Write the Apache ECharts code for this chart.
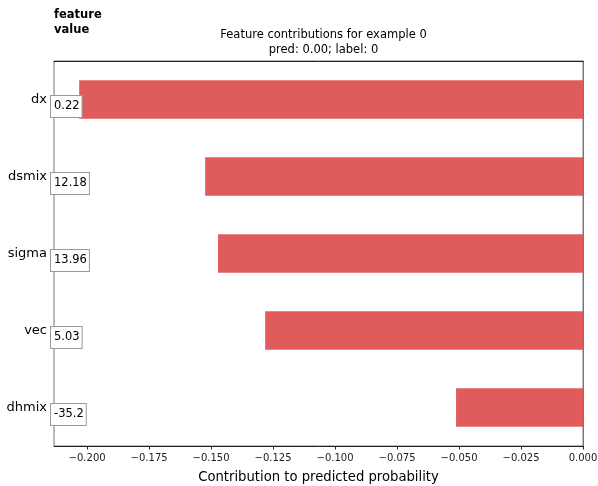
<!DOCTYPE html>
<html>
<head>
<meta charset="utf-8">
<script src="https://cdn.jsdelivr.net/npm/echarts@6/dist/echarts.min.js"></script>
<style>
  html, body { margin: 0; padding: 0; background: #fff; }
  #chart { width: 598px; height: 486px; }
</style>
</head>
<body>
<div id="chart"></div>
<script>
// Features, their values for example 0, and their contributions
const features = ['dx', 'dsmix', 'sigma', 'vec', 'dhmix'];
const featureValues = ['0.22', '12.18', '13.96', '5.03', '-35.2'];
const contributions = [-0.2032, -0.1524, -0.1472, -0.1282, -0.0512];
const xTicks = [-0.2, -0.175, -0.15, -0.125, -0.1, -0.075, -0.05, -0.025, 0];

const FONT = 'DejaVu Sans';
const xMin = Math.min(...contributions) * 1.05;

const chart = echarts.init(document.getElementById('chart'), null, { renderer: 'canvas' });

chart.setOption({
  animation: false,
  backgroundColor: '#fff',
  textStyle: { fontFamily: FONT },
  title: {
    text: 'Feature contributions for example 0\npred: 0.00; label: 0',
    left: 318.5,
    top: 23,
    textAlign: 'center',
    textStyle: { fontFamily: FONT, fontSize: 11.5, fontWeight: 'normal', color: '#000', lineHeight: 15 }
  },
  graphic: [{
    type: 'text',
    left: 54,
    top: 8,
    style: { text: 'feature\nvalue', font: 'bold 11.5px "DejaVu Sans"', fill: '#000', lineHeight: 15 }
  }],
  grid: {
    left: 54, right: 15, top: 61, bottom: 40,
    containLabel: false, outerBoundsMode: 'none',
    show: true, borderColor: '#777', borderWidth: 1
  },
  xAxis: [{
    type: 'value',
    min: xMin,
    max: 0,
    position: 'bottom',
    name: 'Contribution to predicted probability',
    nameLocation: 'middle',
    nameGap: 25,
    nameTextStyle: { fontFamily: FONT, fontSize: 13.2, color: '#000' },
    axisLine: { show: true, onZero: false, lineStyle: { color: '#222', width: 1 } },
    axisTick: { show: true, length: 3.5, lineStyle: { color: '#222' }, customValues: xTicks },
    axisLabel: {
      fontFamily: FONT, fontSize: 10, color: '#222', margin: 7,
      customValues: xTicks,
      formatter: v => (v < 0 ? '\u2212' : '') + Math.abs(v).toFixed(3)
    },
    splitLine: { show: false }
  }, {
    type: 'value',
    min: xMin,
    max: 0,
    position: 'top',
    axisLine: { show: true, onZero: false, lineStyle: { color: '#222', width: 1 } },
    axisTick: { show: false },
    axisLabel: { show: false },
    splitLine: { show: false }
  }],
  yAxis: {
    type: 'category',
    data: features,
    inverse: true,
    axisLine: { show: true, lineStyle: { color: '#777' } },
    axisTick: { show: true, length: 3.5, alignWithLabel: true, lineStyle: { color: '#777' } },
    axisLabel: { fontFamily: FONT, fontSize: 13, color: '#000', margin: 7 },
    splitLine: { show: false }
  },
  series: [{
    type: 'bar',
    data: contributions,
    barWidth: '50%',
    itemStyle: { color: '#e05c5c' },
    z: 2
  }, {
    // boxed feature values along the left edge of the plot
    type: 'custom',
    data: featureValues.map((v, i) => [xMin, i]),
    z: 5,
    renderItem: function (params, api) {
      const p = api.coord([api.value(0), api.value(1)]);
      return {
        type: 'text',
        x: p[0] - 3,
        y: p[1] + 7,
        style: {
          text: featureValues[params.dataIndex],
          font: '11.5px "DejaVu Sans"',
          fill: '#000',
          verticalAlign: 'middle',
          align: 'left',
          backgroundColor: '#fff',
          borderColor: '#999',
          borderWidth: 1,
          padding: [5, 2, 4, 3]
        }
      };
    }
  }]
});
</script>
</body>
</html>
